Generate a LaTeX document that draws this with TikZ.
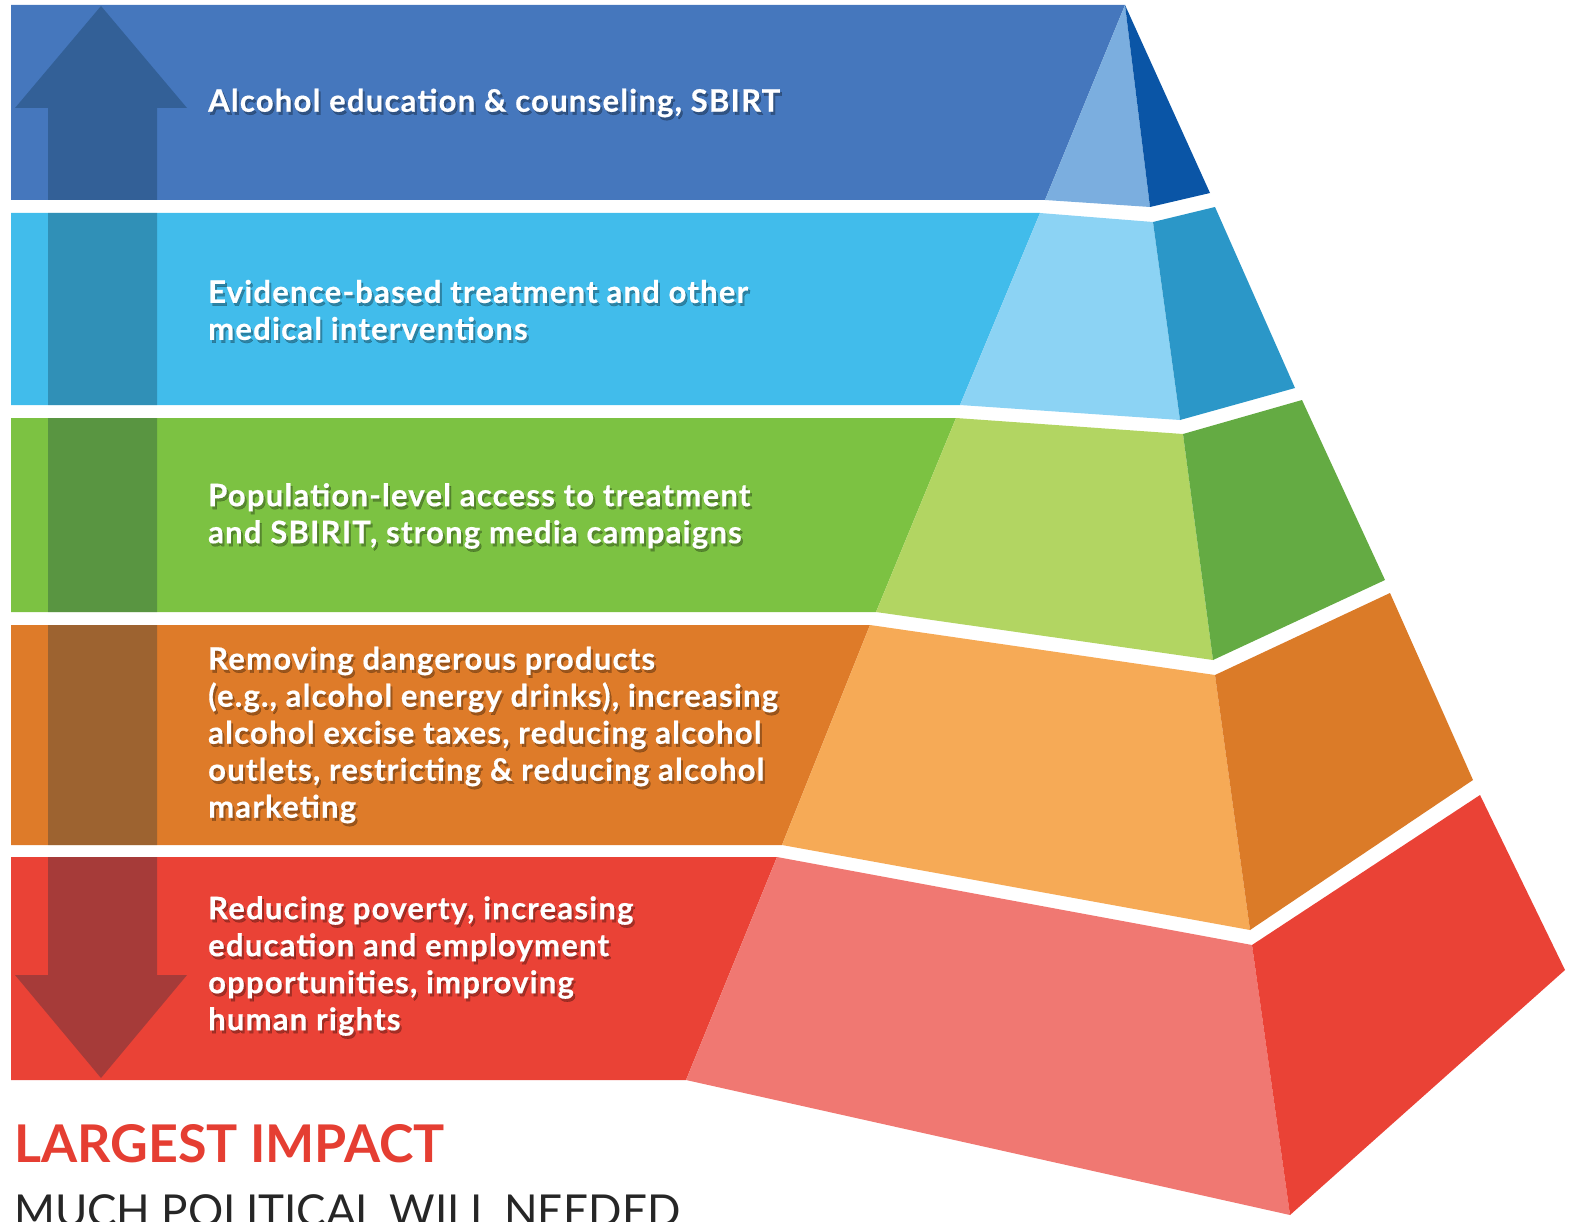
\documentclass[tikz,border=0pt]{standalone}
\usepackage{fontspec}
\setmainfont{Lato}
\newfontfamily\tierfont{Lato}[LetterSpace=4,BoldFeatures={FakeBold=0.5}]
\usepackage{tikz}
\usetikzlibrary{positioning}

\definecolor{bandA}{HTML}{4577BD}
\definecolor{frontA}{HTML}{7BAEDF}
\definecolor{sideA}{HTML}{0A55A6}
\definecolor{bandB}{HTML}{41BCEB}
\definecolor{frontB}{HTML}{8CD3F4}
\definecolor{sideB}{HTML}{2B97C8}
\definecolor{bandC}{HTML}{7CC242}
\definecolor{frontC}{HTML}{B2D562}
\definecolor{sideC}{HTML}{64AB43}
\definecolor{bandD}{HTML}{DE7B29}
\definecolor{frontD}{HTML}{F6AA56}
\definecolor{sideD}{HTML}{DB7B28}
\definecolor{bandE}{HTML}{EA4236}
\definecolor{frontE}{HTML}{F07872}
\definecolor{sideE}{HTML}{EA4236}
\definecolor{arrowcol}{RGB}{10,45,65}
\definecolor{impactred}{HTML}{E53E32}

\begin{document}
\begin{tikzpicture}[x=1pt,y=-1pt,
	tier/.style={font=\tierfont\bfseries\fontsize{31}{37}\selectfont,text=white,align=left,anchor=west,inner sep=0pt},
	tiershadow/.style={tier,text=black,opacity=0.3}]

		\useasboundingbox (0,0) rectangle (1570,1222);

		%bands
		\fill[bandA] (11,5) -- (1125,5) -- (1045,200) -- (11,200) -- cycle;
		\fill[bandB] (11,213) -- (1040,213) -- (960,405) -- (11,405) -- cycle;
		\fill[bandC] (11,418) -- (956,418) -- (876,612) -- (11,612) -- cycle;
		\fill[bandD] (11,625) -- (870,625) -- (782,845) -- (11,845) -- cycle;
		\fill[bandE] (11,857) -- (777,857) -- (686,1080) -- (11,1080) -- cycle;

		%front faces
		\fill[frontA] (1125,5) -- (1150,207) -- (1045,200) -- cycle;
		\fill[frontB] (1040,213) -- (1153,222) -- (1180,420) -- (960,405) -- cycle;
		\fill[frontC] (956,418) -- (1183,434) -- (1213,660) -- (876,612) -- cycle;
		\fill[frontD] (870,625) -- (1215,675) -- (1250,930) -- (782,845) -- cycle;
		\fill[frontE] (777,857) -- (1252,945) -- (1290,1215) -- (686,1080) -- cycle;

		%side faces
		\fill[sideA] (1125,5) -- (1210,193) -- (1150,207) -- cycle;
		\fill[sideB] (1153,222) -- (1215,207) -- (1295,388) -- (1180,420) -- cycle;
		\fill[sideC] (1183,434) -- (1302,400) -- (1385,580) -- (1213,660) -- cycle;
		\fill[sideD] (1215,675) -- (1390,593) -- (1473,780) -- (1250,930) -- cycle;
		\fill[sideE] (1252,945) -- (1480,795) -- (1565,970) -- (1290,1215) -- cycle;

		%arrow
		\begin{scope}
		\clip (11,5) rectangle (200,200) (11,213) rectangle (200,405)
			(11,418) rectangle (200,612) (11,625) rectangle (200,845)
			(11,857) rectangle (200,1080);
		\fill[arrowcol,opacity=0.3] (101,6) -- (187,108) -- (157,108) -- (157,975)
			-- (187,975) -- (101,1078) -- (15,975) -- (48,975) -- (48,108)
			-- (15,108) -- cycle;
		\end{scope}

		%tier texts
		\foreach \name/\ypos/\txt in {
			t1/103/{Alcohol education \& counseling, SBIRT},
			t2/310/{Evidence-based treatment and other\\medical interventions},
			t3/516/{Population-level access to treatment\\and SBIRIT, strong media campaigns},
			t4/735/{Removing dangerous products\\(e.g., alcohol energy drinks), increasing\\alcohol excise taxes, reducing alcohol\\outlets, restricting \& reducing alcohol\\marketing},
			t5/966/{Reducing poverty, increasing\\education and employment\\opportunities, improving\\human rights}}{
			\node[tiershadow] at (210,\ypos+3) {\txt};
			\node[tier] (\name) at (208,\ypos) {\txt};
		}

		%bottom texts
		\node[anchor=base west,inner sep=0pt,text=impactred,font=\bfseries\fontsize{52}{52}\selectfont] (impact) at (14,1162) {LARGEST IMPACT};
		\node[anchor=base west,inner sep=0pt,text=black!85,font=\fontsize{44}{44}\selectfont] (will) at (14,1226) {MUCH POLITICAL WILL NEEDED};

\end{tikzpicture}
\end{document}
